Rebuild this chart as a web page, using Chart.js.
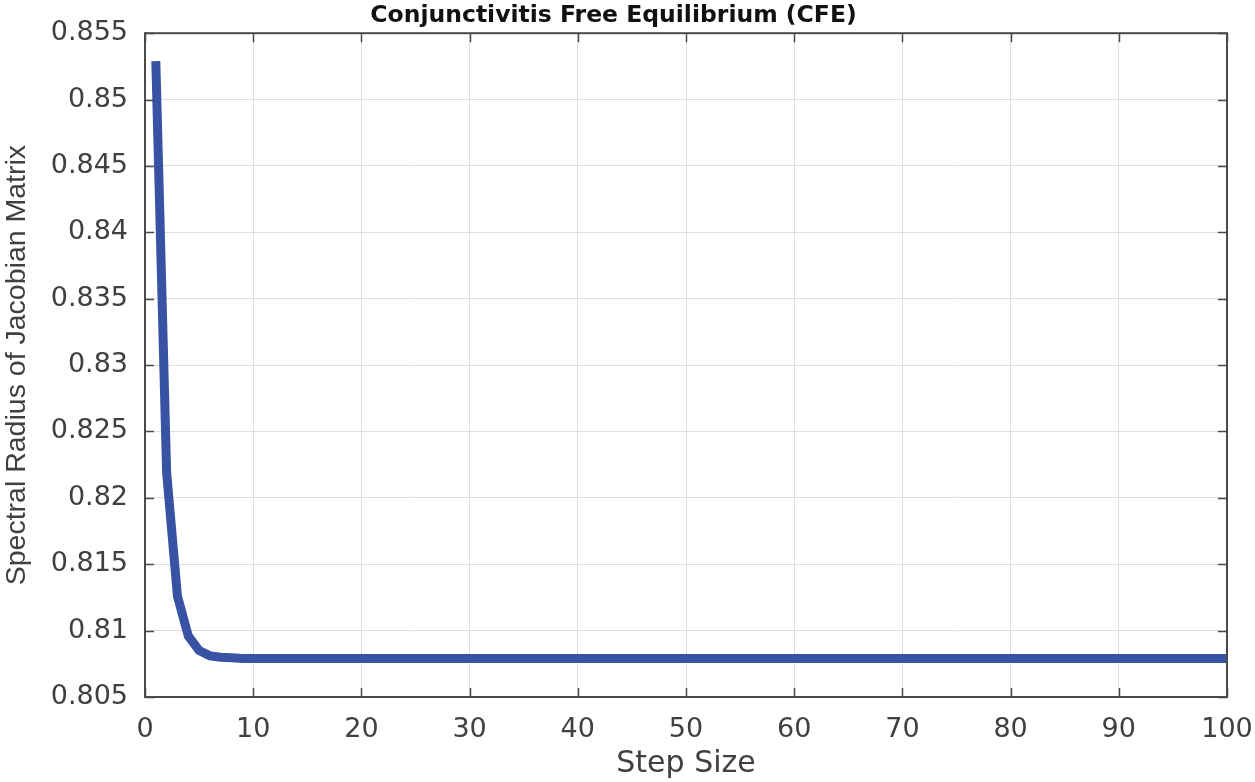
<html>
  <head>
    <script src="https://cdn.jsdelivr.net/npm/chart.js"></script>
    <meta charset="UTF-8" />
    <style>
      body { margin: 0; background: #fff; }
      #wrap { width: 1255px; height: 782px; }
    </style>
  </head>
  <body>
    <div id="wrap"><canvas id="myChart"></canvas></div>
    <script>
      const chartTitle = "Conjunctivitis Free Equilibrium (CFE)";
      const xTitle = "Step Size";
      const yTitle = "Spectral Radius of Jacobian Matrix";

      const steps = [
        1, 2, 3, 4, 5, 6, 7, 8, 9, 10,
        11, 12, 13, 14, 15, 16, 17, 18, 19, 20,
        21, 22, 23, 24, 25, 26, 27, 28, 29, 30,
        31, 32, 33, 34, 35, 36, 37, 38, 39, 40,
        41, 42, 43, 44, 45, 46, 47, 48, 49, 50,
        51, 52, 53, 54, 55, 56, 57, 58, 59, 60,
        61, 62, 63, 64, 65, 66, 67, 68, 69, 70,
        71, 72, 73, 74, 75, 76, 77, 78, 79, 80,
        81, 82, 83, 84, 85, 86, 87, 88, 89, 90,
        91, 92, 93, 94, 95, 96, 97, 98, 99, 100,
      ];
      const spectralRadius = [
        0.8529, 0.8219, 0.8126, 0.8096, 0.8085, 0.8081, 0.80800, 0.80795, 0.8079, 0.8079,
        0.8079, 0.8079, 0.8079, 0.8079, 0.8079, 0.8079, 0.8079, 0.8079, 0.8079, 0.8079,
        0.8079, 0.8079, 0.8079, 0.8079, 0.8079, 0.8079, 0.8079, 0.8079, 0.8079, 0.8079,
        0.8079, 0.8079, 0.8079, 0.8079, 0.8079, 0.8079, 0.8079, 0.8079, 0.8079, 0.8079,
        0.8079, 0.8079, 0.8079, 0.8079, 0.8079, 0.8079, 0.8079, 0.8079, 0.8079, 0.8079,
        0.8079, 0.8079, 0.8079, 0.8079, 0.8079, 0.8079, 0.8079, 0.8079, 0.8079, 0.8079,
        0.8079, 0.8079, 0.8079, 0.8079, 0.8079, 0.8079, 0.8079, 0.8079, 0.8079, 0.8079,
        0.8079, 0.8079, 0.8079, 0.8079, 0.8079, 0.8079, 0.8079, 0.8079, 0.8079, 0.8079,
        0.8079, 0.8079, 0.8079, 0.8079, 0.8079, 0.8079, 0.8079, 0.8079, 0.8079, 0.8079,
        0.8079, 0.8079, 0.8079, 0.8079, 0.8079, 0.8079, 0.8079, 0.8079, 0.8079, 0.8079,
      ];

      const wideFont = "'DejaVu Sans', Verdana, sans-serif";
      const plainFont = "'Liberation Sans', Arial, Helvetica, sans-serif";
      const textColor = "#404040";
      const axisColor = "#4a4a4a";
      const gridColor = "#dedede";

      // matlab style box with inward ticks
      const boxPlugin = {
        id: "box",
        afterDatasetsDraw(chart) {
          const { ctx, chartArea: a, scales } = chart;
          const len = 9;
          ctx.save();
          ctx.strokeStyle = axisColor;
          ctx.lineWidth = 1.5;
          ctx.beginPath();
          scales.x.ticks.forEach(t => {
            const px = Math.round(scales.x.getPixelForValue(t.value)) + 0.5;
            ctx.moveTo(px, a.bottom);
            ctx.lineTo(px, a.bottom - len);
            ctx.moveTo(px, a.top);
            ctx.lineTo(px, a.top + len);
          });
          scales.y.ticks.forEach(t => {
            const py = Math.round(scales.y.getPixelForValue(t.value)) + 0.5;
            ctx.moveTo(a.left, py);
            ctx.lineTo(a.left + len, py);
            ctx.moveTo(a.right, py);
            ctx.lineTo(a.right - len, py);
          });
          ctx.stroke();
          ctx.lineWidth = 2;
          ctx.strokeRect(a.left, a.top, a.right - a.left, a.bottom - a.top);
          ctx.restore();
        },
      };

      const config = {
        type: "line",
        data: {
          datasets: [
            {
              label: yTitle,
              data: steps.map((s, i) => ({ x: s, y: spectralRadius[i] })),
              borderColor: "#3953a4",
              backgroundColor: "#3953a4",
              borderWidth: 9,
              pointRadius: 0,
              tension: 0,
              clip: false,
            },
          ],
        },
        options: {
          responsive: true,
          maintainAspectRatio: false,
          animation: false,
          layout: { padding: { left: 0, right: 28, top: 0, bottom: 0 } },
          plugins: {
            legend: { display: false },
            tooltip: { enabled: false },
            title: {
              display: true,
              text: chartTitle,
              color: "#111",
              font: { family: wideFont, size: 23.5, weight: "bold" },
              padding: { top: 2, bottom: 3 },
            },
          },
          scales: {
            x: {
              type: "linear",
              min: 0,
              max: 100,
              afterFit: s => {
                s.height = 85;
                s.paddingLeft = 0;
                s.paddingRight = 0;
              },
              ticks: {
                stepSize: 10,
                color: textColor,
                padding: 17,
                maxRotation: 0,
                font: { family: wideFont, size: 27 },
              },
              grid: { color: gridColor, drawTicks: false },
              border: { display: false },
              title: {
                display: true,
                text: xTitle,
                color: textColor,
                font: { family: wideFont, size: 30 },
                padding: { top: 0, bottom: 0 },
              },
            },
            y: {
              min: 0.805,
              max: 0.855,
              afterFit: s => { s.width = 145; },
              ticks: {
                stepSize: 0.005,
                color: textColor,
                padding: 17,
                font: { family: wideFont, size: 27 },
                callback: v => String(Number(v.toFixed(3))),
              },
              grid: { color: gridColor, drawTicks: false },
              border: { display: false },
              title: {
                display: true,
                text: yTitle,
                color: textColor,
                font: { family: plainFont, size: 28.5 },
                padding: { top: 0, bottom: 0 },
              },
            },
          },
        },
        plugins: [boxPlugin],
      };

      new Chart(document.getElementById("myChart"), config);
    </script>
  </body>
</html>
